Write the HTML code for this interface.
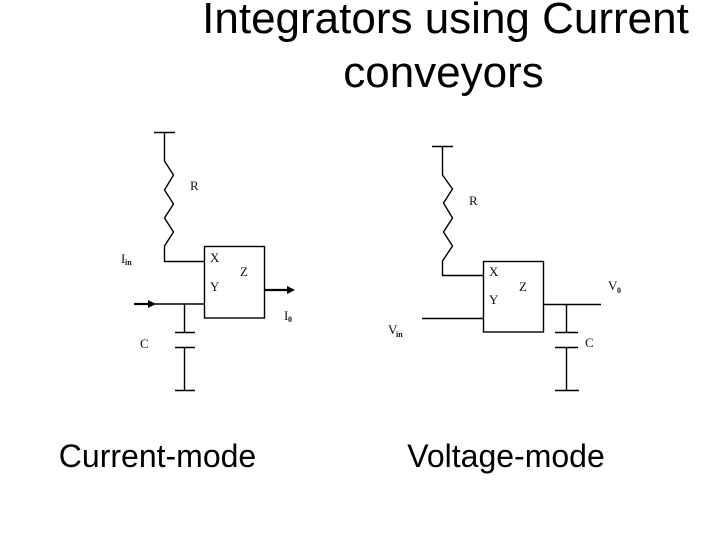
<!DOCTYPE html>
<html>
<head>
<meta charset="utf-8">
<style>
html,body{margin:0;padding:0;background:#fff;}
svg{display:block;}
.t{font-family:"Liberation Sans",sans-serif;fill:#000;}
.l{font-family:"Liberation Serif",serif;font-size:13px;fill:#111;}
.s{font-family:"Liberation Serif",serif;font-size:8px;font-weight:bold;fill:#111;}
</style>
</head>
<body>
<svg width="720" height="540" viewBox="0 0 720 540" xmlns="http://www.w3.org/2000/svg">
<rect width="720" height="540" fill="#fff"/>
<text class="t" x="445.5" y="33" font-size="44" text-anchor="middle">Integrators using Current</text>
<text class="t" x="443.5" y="87" font-size="44" text-anchor="middle">conveyors</text>
<g fill="none" stroke="#000" stroke-width="1.4">
<path d="M154 132.5H175M164.5 132.5V161L173.5 175L164.5 190L173.5 204L164.5 218L173.5 232L164.5 246V261.5H204.5"/>
<rect x="204.5" y="246.5" width="60" height="71.5"/>
<path d="M150 304H204.5M184.5 304V332.5M175 332.5H195M175 347.5H195M184.5 347.5V390.5M175 390.5H195"/>
<path d="M432 146.5H453M442.5 146.5V175L452.5 189L443.5 203L452.5 218L443.5 232L452.5 246L442.5 261V275.5H483.5"/>
<rect x="483.5" y="261.5" width="60" height="70.5"/>
<path d="M422 318.5H483.5M543.5 304.5H601M566.5 304.5V332.5M555 332.5H578M555 347.5H578M566.5 347.5V390.5M555 390.5H579"/>
</g>
<path d="M134 304H150" stroke="#000" stroke-width="2.2" fill="none"/>
<path d="M148 300L156 304L148 308Z" fill="#000"/>
<path d="M265 290H289" stroke="#000" stroke-width="2.2" fill="none"/>
<path d="M287 286L295 290L287 294Z" fill="#000"/>
<text class="l" x="190" y="190">R</text>
<text class="l" x="121" y="263">I</text><text class="s" x="125" y="265">in</text>
<text class="l" x="210" y="262">X</text>
<text class="l" x="240" y="276">Z</text>
<text class="l" x="210" y="291">Y</text>
<text class="l" x="284" y="320">I</text><text class="s" x="288" y="322">0</text>
<text class="l" x="140" y="348">C</text>
<text class="l" x="469" y="205">R</text>
<text class="l" x="489" y="276">X</text>
<text class="l" x="519" y="291">Z</text>
<text class="l" x="489" y="304">Y</text>
<text class="l" x="608" y="290">V</text><text class="s" x="617" y="293">0</text>
<text class="l" x="388" y="334">V</text><text class="s" x="396" y="337">in</text>
<text class="l" x="585" y="347">C</text>
<text class="t" x="157.5" y="467" font-size="32" text-anchor="middle">Current-mode</text>
<text class="t" x="506" y="467" font-size="32" text-anchor="middle">Voltage-mode</text>
</svg>
</body>
</html>
